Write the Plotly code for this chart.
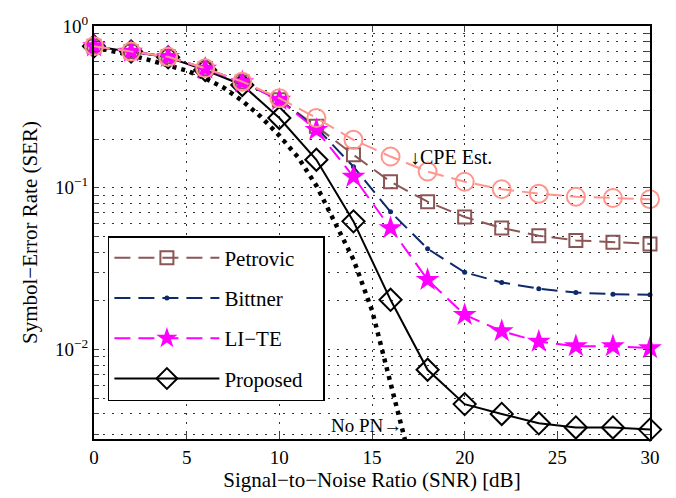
import plotly.graph_objects as go
import math

snr = [0, 2, 4, 6, 8, 10, 12, 14, 16, 18, 20, 22, 24, 26, 28, 30]
petrovic = [0.75, 0.695, 0.645, 0.545, 0.45, 0.35, 0.24, 0.16, 0.109, 0.082, 0.066, 0.0564, 0.0505, 0.0473, 0.046, 0.045]
bittner = [0.75, 0.695, 0.645, 0.545, 0.45, 0.35, 0.235, 0.135, 0.071, 0.042, 0.030, 0.026, 0.0238, 0.0225, 0.022, 0.0218]
lite = [0.75, 0.695, 0.645, 0.545, 0.45, 0.35, 0.228, 0.117, 0.0564, 0.027, 0.0164, 0.013, 0.0112, 0.0105, 0.0105, 0.0102]
proposed = [0.75, 0.695, 0.64, 0.535, 0.432, 0.27, 0.149, 0.062, 0.0203, 0.0075, 0.0046, 0.0040, 0.0035, 0.0033, 0.0033, 0.0032]
cpe_est = [0.75, 0.695, 0.645, 0.548, 0.453, 0.358, 0.27, 0.198, 0.156, 0.126, 0.109, 0.098, 0.092, 0.088, 0.0865, 0.085]

snr_nopn = [0, 1, 2, 3, 4, 5, 6, 7, 8, 9, 10, 11, 12, 13, 14, 15, 16, 17]
no_pn = [0.74, 0.70, 0.66, 0.615, 0.575, 0.53, 0.475, 0.415, 0.345, 0.275, 0.21, 0.155, 0.103, 0.060, 0.036, 0.0175, 0.0062, 0.0022]

x_ticks = [0, 5, 10, 15, 20, 25, 30]

FONT = "Liberation Serif"
F19 = dict(family=FONT, size=19, color="black")
F21 = dict(family=FONT, size=21, color="black")
PAD = "\u00a0\u00a0\u00a0"

fig = go.Figure()

fig.add_trace(go.Scatter(x=snr, y=proposed, name="Proposed" + PAD, mode="lines+markers",
                         line=dict(color="black", width=2),
                         marker=dict(symbol="diamond-open", size=17, color="black", line=dict(width=2)),
                         legendrank=4, legendgroup="d", cliponaxis=False))
fig.add_trace(go.Scatter(x=snr_nopn, y=no_pn, name="No PN", mode="lines",
                         line=dict(color="black", width=4.5, dash="4px,5px"),
                         showlegend=False))
fig.add_trace(go.Scatter(x=snr, y=petrovic, name="Petrovic", mode="lines+markers",
                         line=dict(color="#8C5656", width=2, dash="16px,8px"),
                         marker=dict(symbol="square-open", size=13, color="#8C5656", line=dict(width=2)),
                         legendrank=1, legendgroup="a", cliponaxis=False))
fig.add_trace(go.Scatter(x=snr, y=bittner, name="Bittner", mode="lines+markers",
                         line=dict(color="#0E2A6A", width=2, dash="16px,8px"),
                         marker=dict(symbol="circle", size=5, color="#0E2A6A"),
                         legendrank=2, legendgroup="b", cliponaxis=False))
fig.add_trace(go.Scatter(x=snr, y=lite, name="LI\u2212TE", mode="lines+markers",
                         line=dict(color="#FF00FF", width=2, dash="16px,8px"),
                         marker=dict(symbol="star", size=18, color="#FF00FF", line=dict(width=0)),
                         legendrank=3, legendgroup="c", cliponaxis=False))
fig.add_trace(go.Scatter(x=snr, y=cpe_est, name="CPE Est.", mode="lines+markers",
                         line=dict(color="#FF968E", width=2, dash="16px,8px"),
                         marker=dict(symbol="circle-open", size=18, color="#FF968E", line=dict(width=2)),
                         showlegend=False, cliponaxis=False))

y_tickvals, y_ticktext = [], []
for e in [-3, -2, -1]:
    for k in range(1, 10):
        v = k * 10 ** e
        if v < 0.0028:
            continue
        y_tickvals.append(v)
        y_ticktext.append(f"10<sup>\u2212{-e}</sup>" if k == 1 else "")
y_tickvals.append(1.0)
y_ticktext.append("10<sup>0</sup>")

fig.add_annotation(x=16.95, y=math.log10(0.156), text="\u2193CPE Est.", showarrow=False,
                   xanchor="left", yanchor="middle", font=dict(family=FONT, size=20, color="black"))
fig.add_annotation(x=16.7, y=math.log10(0.0034), text="No PN\u2192", showarrow=False,
                   xanchor="right", yanchor="middle", font=F19)

grid = dict(showgrid=True, gridcolor="#333", gridwidth=1, griddash="1.5px,7.5px")

fig.update_layout(
    width=676, height=498,
    margin=dict(l=94, r=26, t=26, b=59, autoexpand=False),
    paper_bgcolor="white", plot_bgcolor="white",
    font=F19,
    showlegend=True,
    legend=dict(x=0.025, y=0.4915, xanchor="left", yanchor="top",
                bgcolor="white", bordercolor="black", borderwidth=1.5,
                font=F21, tracegroupgap=10,
                itemwidth=105, traceorder="grouped"),
    xaxis=dict(range=[0, 30], tickvals=x_ticks, ticks="inside", ticklen=6, tickwidth=1,
               showline=True, linewidth=2, linecolor="black", mirror="allticks",
               zeroline=False, automargin=False, tickfont=F19,
               title=dict(text="Signal\u2212to\u2212Noise Ratio (SNR) [dB]", standoff=4, font=F21),
               **grid),
    yaxis=dict(type="log", range=[math.log10(0.0028), 0], tickvals=y_tickvals, ticktext=y_ticktext,
               ticks="inside", ticklen=5, tickwidth=1,
               showline=True, linewidth=2, linecolor="black", mirror="allticks",
               zeroline=False, automargin=False, tickfont=F19,
               title=dict(text="Symbol\u2212Error Rate (SER)", standoff=12, font=F21),
               **grid),
)

fig.write_html("out.html", config={"displayModeBar": False},
               post_script="document.body.style.margin='0';")
